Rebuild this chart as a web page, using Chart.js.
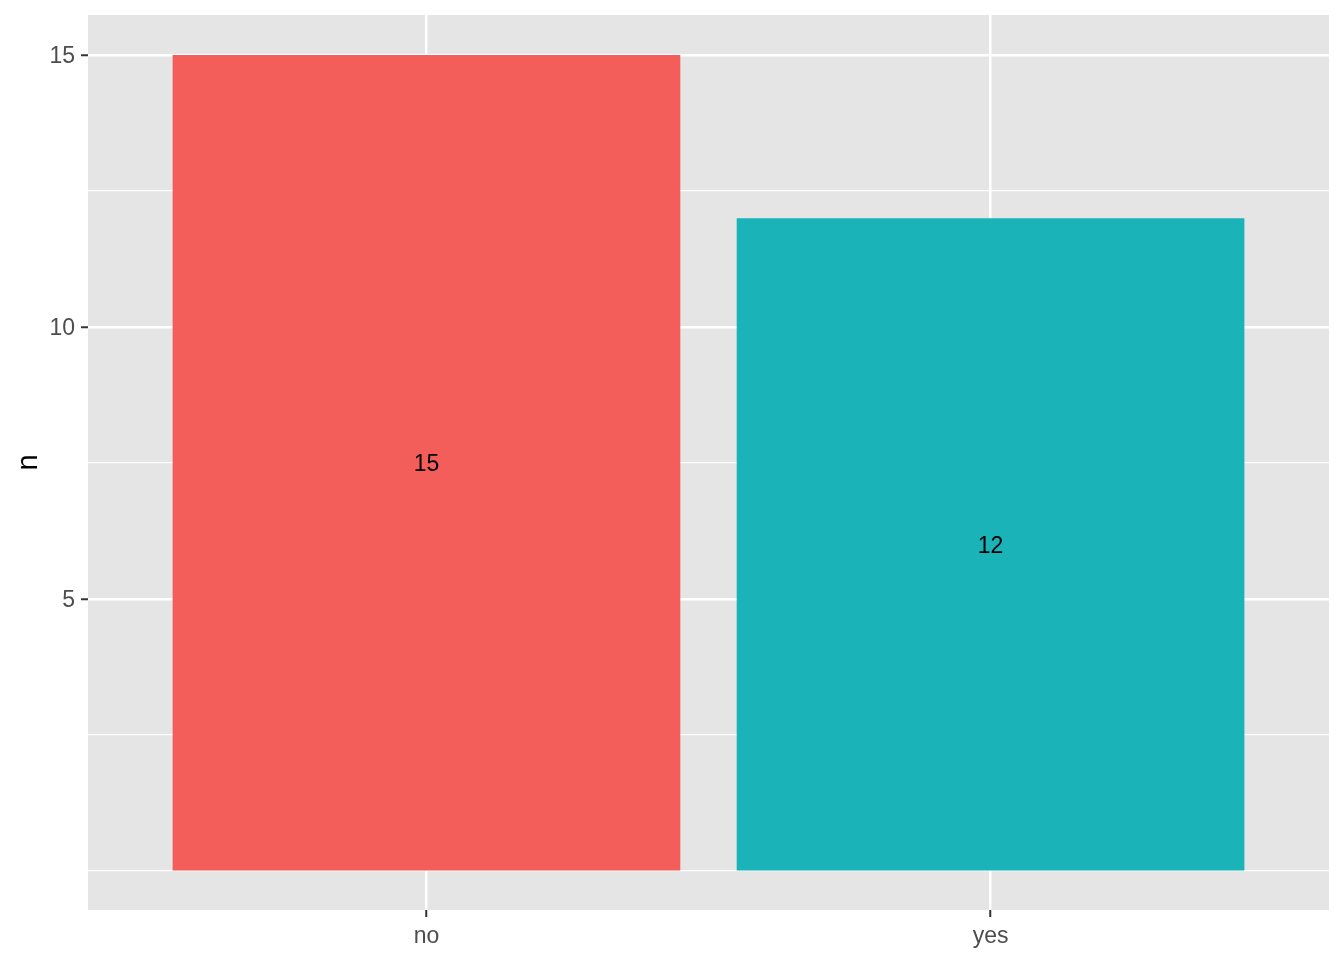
<!DOCTYPE html>
<html>
<head>
<meta charset="utf-8">
<script src="https://cdn.jsdelivr.net/npm/chart.js@4.4.0/dist/chart.umd.min.js"></script>
<style>
  body { margin: 0; background: #fff; }
  canvas { display: block; }
</style>
</head>
<body>
<canvas id="chartCanvas" width="1344" height="960"></canvas>
<script>
const answers = ['no', 'yes'];
const counts = [15, 12];
const barColors = ['#F35E5A', '#19B3B8'];
const yMajorTicks = [5, 10, 15];
const yMinorTicks = [0, 2.5, 7.5, 12.5];

const FONT = '"Liberation Sans", Arial, Helvetica, sans-serif';

// grey panel behind the bars, like ggplot's theme_grey
const panelBg = {
    id: 'panelBg',
    beforeDraw(chart) {
        const { ctx, chartArea: a } = chart;
        ctx.save();
        ctx.fillStyle = '#E5E5E5';
        ctx.fillRect(a.left, a.top, a.right - a.left, a.bottom - a.top);
        ctx.restore();
    },
};

// count written in the middle of each bar
const barLabels = {
    id: 'barLabels',
    afterDatasetsDraw(chart) {
        const ctx = chart.ctx;
        const x = chart.scales.x;
        const y = chart.scales.y;
        ctx.save();
        ctx.font = '23px ' + FONT;
        ctx.fillStyle = '#000';
        ctx.textAlign = 'center';
        ctx.textBaseline = 'middle';
        counts.forEach((v, i) => {
            ctx.fillText(String(v), x.getPixelForValue(i + 1), y.getPixelForValue(v / 2) + 2);
        });
        ctx.restore();
    },
};

const isMajor = (v) => yMajorTicks.includes(v);

const cha = document.getElementById('chartCanvas').getContext('2d');
new Chart(cha, {
    type: 'bar',
    data: {
        datasets: [
            {
                data: counts.map((v, i) => ({ x: i + 1, y: v })),
                backgroundColor: barColors,
                borderWidth: 0,
                barPercentage: 0.9,
                categoryPercentage: 1,
            },
        ],
    },
    options: {
        responsive: false,
        animation: false,
        layout: {
            padding: { top: 15, right: 15, left: 0, bottom: 0 },
        },
        plugins: {
            legend: { display: false },
            tooltip: { enabled: false },
        },
        scales: {
            x: {
                type: 'linear',
                offset: false,
                min: 0.4,
                max: 2.6,
                afterBuildTicks: (scale) => {
                    scale.ticks = answers.map((_, i) => ({ value: i + 1 }));
                },
                afterFit: (scale) => {
                    scale.height = 50;
                    scale.paddingLeft = 0;
                    scale.paddingRight = 0;
                },
                border: { display: false },
                grid: {
                    offset: false,
                    color: '#FFFFFF',
                    lineWidth: 2.5,
                    tickColor: '#333333',
                    tickLength: 7,
                    tickWidth: 2,
                },
                ticks: {
                    autoSkip: false,
                    maxRotation: 0,
                    padding: 6,
                    color: '#4D4D4D',
                    font: { family: FONT, size: 23 },
                    callback: (v) => answers[v - 1] || '',
                },
            },
            y: {
                min: -0.717,
                max: 15.735,
                afterBuildTicks: (scale) => {
                    scale.ticks = yMinorTicks.concat(yMajorTicks)
                        .sort((a, b) => a - b)
                        .map((v) => ({ value: v }));
                },
                afterFit: (scale) => {
                    scale.width = 88;
                    scale.paddingTop = 0;
                    scale.paddingBottom = 0;
                },
                border: { display: false },
                grid: {
                    color: '#FFFFFF',
                    lineWidth: (c) => (c.tick && isMajor(c.tick.value) ? 2.5 : 1.2),
                    tickColor: (c) => (c.tick && isMajor(c.tick.value) ? '#333333' : 'rgba(0,0,0,0)'),
                    tickLength: 7,
                    tickWidth: 2,
                },
                ticks: {
                    autoSkip: false,
                    padding: 6,
                    labelOffset: 2,
                    color: '#4D4D4D',
                    font: { family: FONT, size: 23 },
                    callback: (v) => (isMajor(v) ? String(v) : ''),
                },
                title: {
                    display: true,
                    text: 'n',
                    color: '#000000',
                    font: { family: FONT, size: 29 },
                    padding: { top: 12, bottom: 0 },
                },
            },
        },
    },
    plugins: [panelBg, barLabels],
});
</script>
</body>
</html>
